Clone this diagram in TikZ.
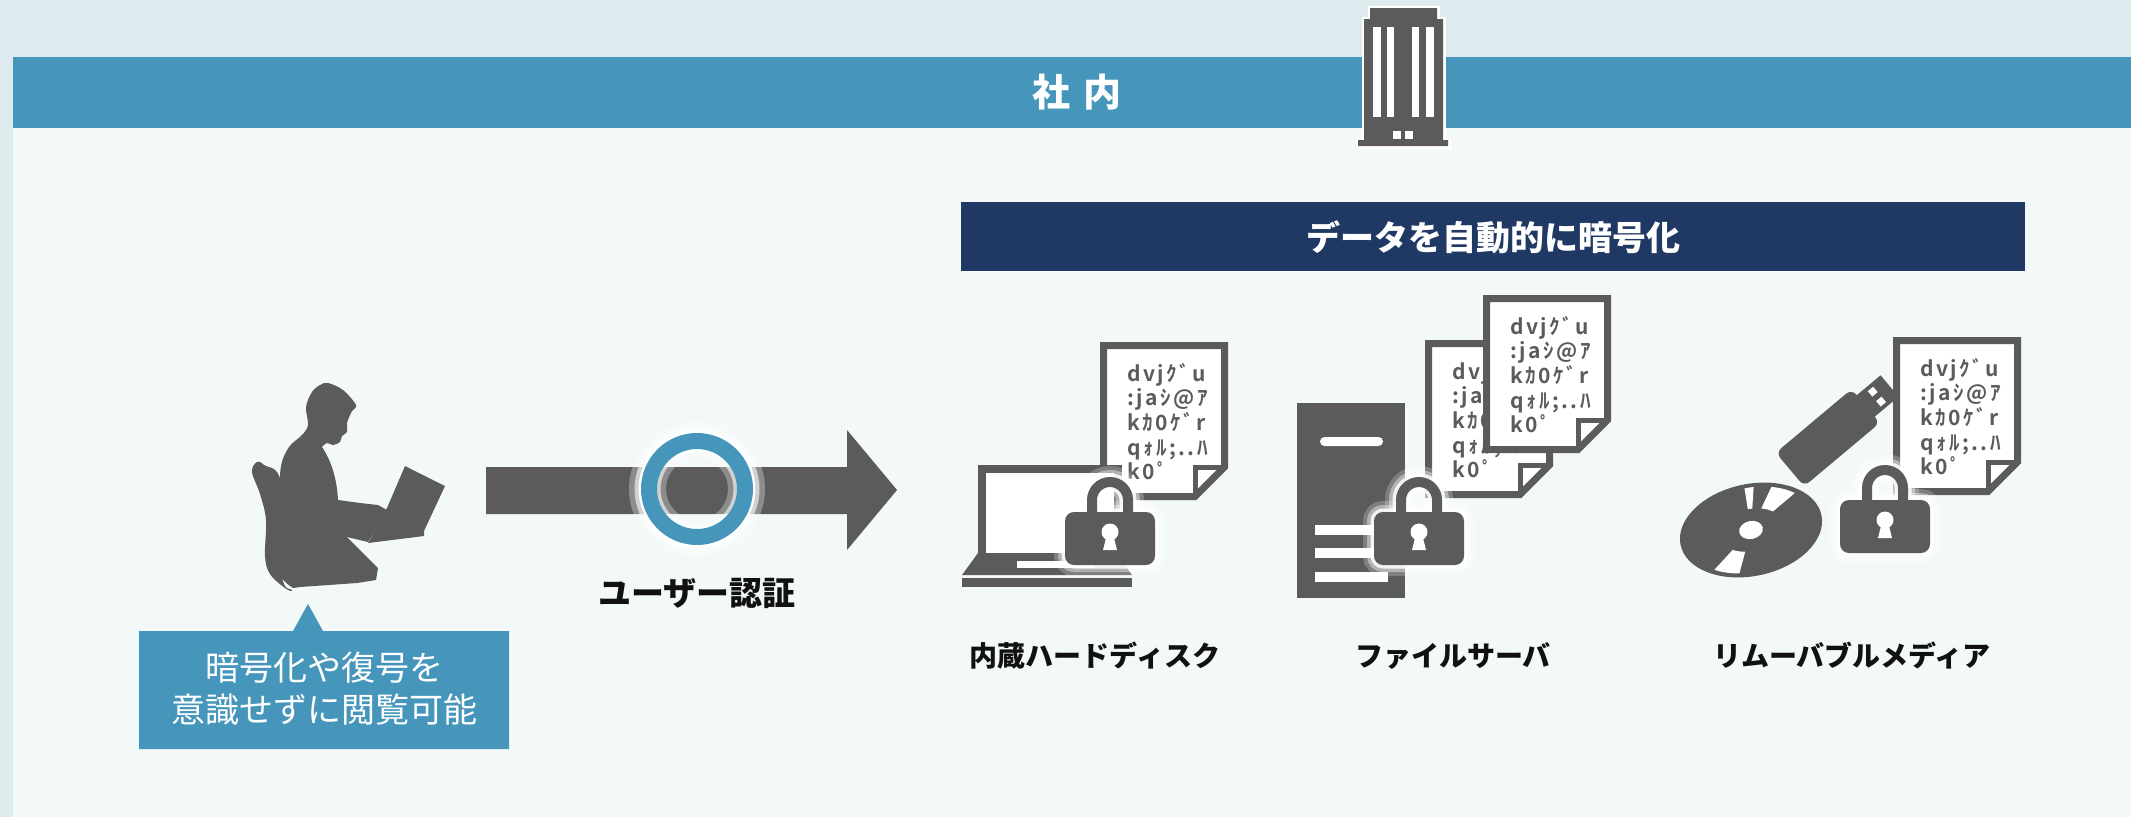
\documentclass[tikz,border=0pt]{standalone}
\usepackage{fontspec}
\setmainfont{Noto Sans CJK JP}
\newfontfamily\cipherfont{Noto Sans CJK JP Bold}[LetterSpace=12]

\definecolor{pagebg}{HTML}{DDEBEF}
\definecolor{panel}{HTML}{F3F9F9}
\definecolor{steel}{HTML}{4696BC}
\definecolor{navy}{HTML}{203864}
\definecolor{icon}{HTML}{5B5B5B}
\definecolor{ink}{HTML}{111111}

% five lines of scrambled characters, first baseline is the reference point
\newcommand\cipherlines{\vtop{\baselineskip=24.7pt\lineskiplimit=-50pt
  \hbox{dvjｸﾞu}\hbox{:jaｼ@ｱ}\hbox{kｶ0ｹﾞr}\hbox{qｫﾙ;..ﾊ}\hbox{k0ﾟ}}}

\tikzset{
  doctext/.style={font=\cipherfont\fontsize{21}{25}\selectfont, text=icon, inner sep=0pt},
  label/.style={font=\fontsize{28}{32}\selectfont\bfseries, text=ink, inner sep=0pt},
  % encrypted sheet with a folded corner; origin = outer top-left
  cipherdoc/.pic={
    \path[fill=white, draw=icon, line width=7, line join=miter]
      (3.5,3.5) -- (124.5,3.5) -- (124.5,125) -- (95,154.5) -- (3.5,154.5) -- cycle;
    \draw[icon, line width=5] (95,154.5) -- (95,125) -- (124.5,125);
    \node[doctext, anchor=base west] (-t) at (27,39) {\cipherlines};
  },
  % padlock with a soft white halo; origin = body top-left
  padlock/.pic={
    \foreach \w/\o in {22/0.22, 14/0.4, 7/0.85} {
      \draw[white, line width=\w, opacity=\o, rounded corners=9] (0,0) rectangle (90,53);
      \draw[white, line width=10+\w, opacity=\o] (27,2) -- (27,-12)
        arc[start angle=180, end angle=360, radius=18] -- (63,2);
    }
    \draw[icon, line width=10] (27,2) -- (27,-12)
      arc[start angle=180, end angle=360, radius=18] -- (63,2);
    \fill[icon, rounded corners=9] (0,0) rectangle (90,53);
    \fill[white] (45,20) circle (8.5);
    \fill[white] (41.5,24) -- (48.5,24) -- (52,38) -- (38,38) -- cycle;
  }
}

\begin{document}
\begin{tikzpicture}[x=1pt, y=-1pt]
\useasboundingbox (0,0) rectangle (2131,817);

% backgrounds
\fill[pagebg] (0,0) rectangle (2131,817);
\fill[panel] (13,128) rectangle (2131,817);
\fill[steel] (13,57) rectangle (2131,128);
\node[font=\fontsize{38}{40}\selectfont\bfseries, text=white, inner sep=0pt] (title)
  at (1077,92) {社\hspace{14pt}内};

% office building
\begin{scope}
  \draw[white, line width=5, line join=miter]
    (1370,8) -- (1437,8) -- (1437,19) -- (1443,19) -- (1443,140) -- (1448,140) -- (1448,146)
    -- (1358,146) -- (1358,140) -- (1364,140) -- (1364,19) -- (1370,19) -- cycle;
  \fill[icon]
    (1370,8) -- (1437,8) -- (1437,19) -- (1443,19) -- (1443,140) -- (1448,140) -- (1448,146)
    -- (1358,146) -- (1358,140) -- (1364,140) -- (1364,19) -- (1370,19) -- cycle;
  \foreach \a/\b in {1373/1381, 1387/1394, 1412/1419, 1426/1434}
    \fill[white] (\a,27) rectangle (\b,117);
  \fill[white] (1393,131) rectangle (1401,139);
  \fill[white] (1405,131) rectangle (1413,139);
\end{scope}

% banner
\fill[navy] (961,202) rectangle (2025,271);
\node[font=\fontsize{34}{36}\selectfont\bfseries, text=white, inner sep=0pt] (banner)
  at (1493,237) {データを自動的に暗号化};

% person at a laptop
\fill[icon] plot[smooth cycle, tension=0.6] coordinates
  {(257,462) (264,465) (281,483) (282,575) (292,590) (285,588) (270,574)
   (265,556) (266,520) (260,494) (252,472)};
\fill[icon] plot[smooth, tension=0.55] coordinates
  {(322,447) (327,443) (333,445) (340,442) (342,436) (347,432) (347,423)
   (352,411) (356,405) (343,390) (328,383) (320,385) (312,392) (306,407)
   (308,425) (302,435) (289,447) (281,466) (279,500) (276,545) (280,575) (293,588)}
  -- (300,587) -- (357,583) -- (376,580) -- (378,568) -- (347,537) -- (368,542)
  -- (387,510) -- (378,505) -- (360,503) -- (338,500)
  .. controls (337,480) and (332,462) .. (322,447) -- cycle;
\fill[icon] (387,508) -- (405,466) -- (445,486) -- (424,531) -- (424,536) -- (368,543) -- cycle;

% callout
\fill[steel] (139,631) -- (293,631) -- (308,604) -- (323,631) -- (509,631)
  -- (509,749) -- (139,749) -- cycle;
\node[font=\fontsize{34}{42}\selectfont, text=white, align=center, inner sep=0pt] (callout)
  at (324,689) {暗号化や復号を\\意識せずに閲覧可能};

% authentication arrow with a ring where the user is checked
\coordinate (arrowTail) at (486,490);
\coordinate (arrowTip) at (897,490);
\fill[icon] (arrowTail) ++(0,-23) -- (847,467) -- (847,430) -- (arrowTip)
  -- (847,550) -- (847,514) -- (486,514) -- cycle;
\coordinate (ring) at (697,489);
\draw[white, opacity=0.3, line width=16] (ring) circle (60);
\draw[white, opacity=0.6, line width=9] (ring) circle (58);
\draw[white, opacity=0.95, line width=4] (ring) circle (56.5);
\draw[white, opacity=0.3, line width=12] (ring) circle (37);
\draw[white, opacity=0.6, line width=5] (ring) circle (39);
\fill[steel, even odd rule] (ring) circle (56) (ring) circle (40);
\node[font=\fontsize{33}{36}\selectfont\bfseries, text=ink, inner sep=0pt] (auth)
  at (697,593) {ユーザー認証};

% internal hard disk: laptop + sheet + lock
\pic (hddDoc) at (1100,342) {cipherdoc};
\fill[icon] (978,465) rectangle (1122,560);
\fill[white] (986,473) rectangle (1114,553);
\fill[icon] (978,553) -- (1116,553) -- (1132,575) -- (962,575) -- cycle;
\fill[white] (1017,561) rectangle (1095,568);
\fill[icon] (962,578) rectangle (1132,587);
\pic (hddLock) at (1065,512) {padlock};
\node[label] (lblHdd) at (1095,656) {内蔵ハードディスク};

% file server: tower + two sheets + lock
\fill[icon] (1297,403) rectangle (1405,598);
\fill[white, rounded corners=4.5] (1320,437) rectangle (1383,446);
\foreach \y in {525,548,572}
  \fill[white] (1315,\y) rectangle (1388,\y+10);
\pic (srvDocBack) at (1425,340) {cipherdoc};
\pic (srvDocFront) at (1483,295) {cipherdoc};
\pic (srvLock) at (1374,512) {padlock};
\node[label] (lblSrv) at (1453,656) {ファイルサーバ};

% removable media: disc + usb stick + sheet + lock
\begin{scope}[shift={(1751,530)}, rotate=12]
  \fill[icon] (0,0) ellipse (72 and 46);
  \begin{scope}[yscale=46/72]
    \foreach \a/\b in {-80/-88, -40/-64, -228/-252}
      \fill[white] (\a:33) -- (\a:66) arc[start angle=\a, end angle=\b, radius=66]
        -- (\b:33) arc[start angle=\b, end angle=\a, radius=33] -- cycle;
  \end{scope}
  \fill[white] (0,0) ellipse (12 and 9);
\end{scope}
\begin{scope}[shift={(1793,467)}, rotate=40]
  \fill[icon, rounded corners=7] (-4,-22) rectangle (95,22);
  \fill[icon] (93,-14) rectangle (126,14);
  \fill[white] (106,-10) rectangle (113,-3);
  \fill[white] (106,3) rectangle (113,10);
\end{scope}
\pic (mediaDoc) at (1893,337) {cipherdoc};
\pic (mediaLock) at (1840,500) {padlock};
\node[label] (lblMedia) at (1852,656) {リムーバブルメディア};

\end{tikzpicture}
\end{document}
